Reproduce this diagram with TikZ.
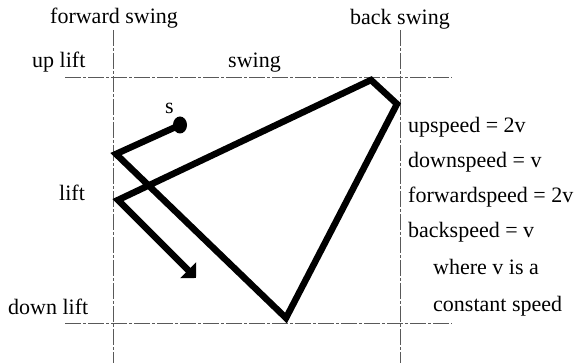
\documentclass[tikz,border=0pt]{standalone}
\usepackage{fontspec}
\setmainfont{Liberation Serif}
\usetikzlibrary{arrows.meta}
\begin{document}
\begin{tikzpicture}[x=1pt,y=-1pt,
  guide/.style={draw=black!65,line width=0.8pt,dash pattern=on 16pt off 2pt on 3pt off 2pt},
  motion/.style={draw=black,line width=6.5pt,line join=miter,miter limit=4},
  lbl/.style={anchor=base west,inner sep=0pt,font=\fontsize{22}{26}\selectfont}]
\useasboundingbox (0,0) rectangle (574,363);
% guide lines
\coordinate (vl1) at (113,30); \coordinate (vl2) at (113,363);
\coordinate (vr1) at (400,30); \coordinate (vr2) at (400,363);
\coordinate (ht1) at (65,77); \coordinate (ht2) at (452,77);
\coordinate (hb1) at (65,323); \coordinate (hb2) at (452,323);
\draw[guide] (vl1) -- (vl2);
\draw[guide] (vr1) -- (vr2);
\draw[guide] (ht1) -- (ht2);
\draw[guide] (hb1) -- (hb2);
% labels
\node[lbl] (fs) at (50,24) {forward swing};
\node[lbl] (bs) at (350,25) {back swing};
\node[lbl] (ul) at (32,68) {up lift};
\node[lbl] (sw) at (228,68) {swing};
\node[lbl] (li) at (59,201) {lift};
\node[lbl] (dl) at (8,315) {down lift};
\node[lbl] (s) at (165,114) {s};
\node[lbl] (t1) at (408,133) {upspeed = 2v};
\node[lbl] (t2) at (408,168) {downspeed = v};
\node[lbl] (t3) at (408,203) {forwardspeed = 2v};
\node[lbl] (t4) at (408,238) {backspeed = v};
\node[lbl] (t5) at (433,275) {where v is a};
\node[lbl] (t6) at (433,312) {constant speed};
% motion path
\coordinate (p0) at (180,125);
\coordinate (p1) at (116,154);
\coordinate (p2) at (286,318);
\coordinate (p3) at (397,104);
\coordinate (p4) at (371,80);
\coordinate (p5) at (118,200);
\coordinate (p6) at (196,278);
\fill (p0) ellipse [x radius=7pt,y radius=8.5pt];
\draw[motion,-{Triangle[length=11pt,width=22pt]}] (p0) -- (p1) -- (p2) -- (p3) -- (p4) -- (p5) -- (p6);
\end{tikzpicture}
\end{document}
